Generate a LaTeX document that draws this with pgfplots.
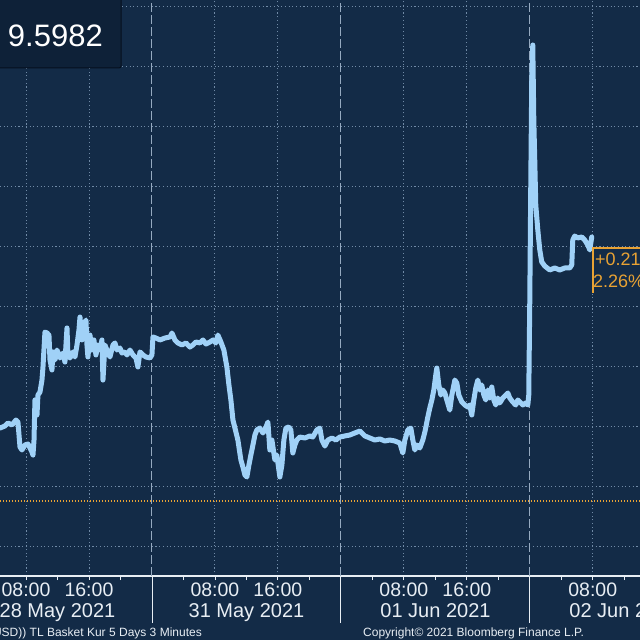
\documentclass[border=0pt]{standalone}
\usepackage{pgfplots}
\pgfplotsset{compat=1.18}
\usepackage{fontspec}
\setmainfont{Liberation Sans}
\definecolor{bg}{RGB}{19,43,71}
\definecolor{boxbg}{RGB}{14,33,56}
\definecolor{boxline}{RGB}{6,16,30}
\definecolor{ln}{RGB}{160,209,247}
\definecolor{gridc}{RGB}{112,138,166}
\definecolor{dayc}{RGB}{150,170,192}
\definecolor{orng}{RGB}{232,162,52}
\definecolor{txt}{RGB}{232,238,244}
\begin{document}
\begin{tikzpicture}[x=1pt,y=1pt]
\useasboundingbox (0,0) rectangle (640,640);
\fill[bg] (-5,-5) rectangle (645,645);
\begin{axis}[
  at={(0pt,64pt)}, anchor=south west,
  width=640pt, height=576pt, scale only axis,
  xmin=4.70, xmax=86.0, ymin=9.225, ymax=9.705,
  axis x line*=bottom, axis y line*=left,
  x axis line style={draw=txt, line width=1.4pt},
  y axis line style={draw=none},
  ytick={9.25,9.30,9.35,9.40,9.45,9.50,9.55,9.60,9.65,9.70},
  yticklabels={}, ytick style={draw=none},
  xtick={8,16,32,40,56,64,80,88},
  xticklabels={08:00,16:00,08:00,16:00,08:00,16:00,08:00,16:00},
  minor xtick={4,12,20,28,36,44,52,60,68,76,84},
  tick align=outside,
  xtick style={draw=txt, line width=0.8pt},
  major tick length=4pt, minor tick length=4pt,
  extra x ticks={24,48,72},
  extra x tick labels={},
  extra x tick style={major tick length=47pt, tick style={draw=txt, line width=1pt},
     grid style={draw=dayc, line width=1pt, dash pattern=on 9pt off 3pt}},
  xmajorgrids, ymajorgrids,
  grid style={draw=gridc, line width=0.9pt, dash pattern=on 1.1pt off 2.6pt},
  xticklabel style={anchor=base, yshift=-16pt, font=\fontsize{19.5}{22}\selectfont, text=txt},
  clip=true,
]
\addplot[orng, line width=1.6pt, dash pattern=on 1.4pt off 1.6pt] coordinates {(4.7,9.2875) (86,9.2875)};
\addplot[ln, line width=5pt, line join=round, line cap=round] coordinates {
(4.70,9.3483)(5.33,9.350)(5.71,9.3525)(6.22,9.3508)(6.73,9.355)(6.98,9.3533)(7.24,9.3325)(7.49,9.330)(7.87,9.3342)(8.25,9.335)(8.51,9.3317)(8.76,9.3283)(8.89,9.3258)(9.02,9.3383)(9.14,9.3717)(9.40,9.3592)(9.52,9.3758)(9.78,9.3783)(10.03,9.3883)(10.16,9.3992)(10.41,9.4283)(10.67,9.4275)(10.92,9.4258)(11.05,9.405)(11.30,9.3967)(11.43,9.4117)(11.68,9.405)(11.94,9.4133)(12.32,9.4067)(12.70,9.4108)(12.95,9.4033)(13.21,9.4317)(13.33,9.4092)(13.59,9.4067)(13.97,9.4117)(14.22,9.4075)(14.48,9.4175)(14.73,9.430)(14.86,9.4408)(15.11,9.4217)(15.37,9.4342)(15.62,9.4383)(15.75,9.4175)(15.87,9.4075)(16.13,9.4258)(16.38,9.4133)(16.63,9.4217)(16.89,9.4092)(17.14,9.4175)(17.40,9.4133)(17.65,9.4217)(17.78,9.3883)(18.03,9.4175)(18.29,9.4133)(18.67,9.4075)(19.05,9.4175)(19.30,9.4192)(19.56,9.4133)(19.94,9.415)(20.19,9.4108)(20.57,9.4117)(20.83,9.4092)(21.21,9.4133)(21.59,9.4092)(21.97,9.4067)(22.22,9.3992)(22.48,9.4117)(22.86,9.4092)(23.24,9.4075)(23.75,9.4067)(24.00,9.4092)(24.13,9.4242)(24.51,9.4233)(25.02,9.4217)(25.65,9.4233)(26.29,9.4242)(26.54,9.4275)(26.92,9.4217)(27.30,9.4192)(27.81,9.4175)(28.32,9.4192)(28.83,9.4158)(29.21,9.4175)(29.59,9.42)(30.10,9.4192)(30.48,9.4217)(30.86,9.4183)(31.37,9.42)(31.75,9.4217)(32.13,9.4192)(32.38,9.4258)(32.76,9.42)(33.14,9.4133)(33.52,9.3992)(33.78,9.3842)(34.03,9.3717)(34.29,9.355)(34.67,9.345)(34.92,9.3383)(35.30,9.3217)(35.56,9.3158)(35.81,9.3092)(36.06,9.3075)(36.32,9.3175)(36.57,9.3258)(36.83,9.3342)(37.08,9.3425)(37.33,9.3467)(37.71,9.3483)(38.10,9.3442)(38.35,9.3467)(38.73,9.3533)(38.98,9.330)(39.24,9.3383)(39.62,9.3217)(39.87,9.3258)(40.13,9.3133)(40.25,9.3075)(40.51,9.3175)(40.76,9.3383)(41.02,9.3483)(41.40,9.3492)(41.65,9.3467)(41.90,9.3275)(42.16,9.3342)(42.41,9.3383)(42.79,9.3408)(43.43,9.34)(44.06,9.3417)(44.44,9.3408)(44.95,9.3467)(45.33,9.3483)(45.59,9.3383)(45.97,9.3333)(46.35,9.3383)(46.86,9.34)(47.37,9.3383)(47.87,9.3408)(48.51,9.3417)(49.14,9.3425)(49.78,9.3442)(50.41,9.3458)(51.05,9.3417)(51.68,9.34)(52.32,9.3383)(52.95,9.3392)(53.59,9.3375)(54.22,9.3383)(54.86,9.3375)(55.49,9.3358)(55.87,9.3275)(56.13,9.3383)(56.51,9.3467)(56.89,9.3483)(57.14,9.3383)(57.40,9.330)(57.65,9.3342)(58.03,9.3317)(58.41,9.3383)(58.67,9.345)(59.05,9.3575)(59.30,9.365)(59.56,9.3717)(59.81,9.38)(60.06,9.3925)(60.19,9.3983)(60.44,9.3842)(60.70,9.3758)(60.95,9.38)(61.21,9.3775)(61.46,9.3717)(61.84,9.3633)(62.10,9.3758)(62.48,9.3883)(62.73,9.3858)(62.98,9.3758)(63.37,9.37)(63.75,9.3675)(64.13,9.3658)(64.38,9.3675)(64.63,9.3592)(64.89,9.3717)(65.14,9.3817)(65.40,9.3883)(65.65,9.38)(65.90,9.3842)(66.16,9.3758)(66.41,9.3717)(66.67,9.38)(66.92,9.3733)(67.17,9.3825)(67.43,9.3717)(67.68,9.3675)(67.94,9.3733)(68.19,9.3692)(68.57,9.3733)(68.95,9.3758)(69.21,9.3775)(69.46,9.3733)(69.84,9.37)(70.22,9.3675)(70.48,9.3717)(70.73,9.37)(71.11,9.3675)(71.49,9.3692)(71.75,9.3675)(71.87,9.3758)(72.00,9.455)(72.13,9.555)(72.25,9.6383)(72.38,9.6675)(72.51,9.605)(72.63,9.5717)(72.76,9.5342)(73.02,9.5133)(73.27,9.4967)(73.52,9.4867)(73.90,9.4833)(74.54,9.48)(75.17,9.4817)(75.81,9.48)(76.44,9.4817)(77.08,9.4817)(77.33,9.4842)(77.46,9.505)(77.71,9.5083)(78.10,9.5067)(78.60,9.5075)(78.98,9.505)(79.37,9.5008)(79.62,9.4967)(79.87,9.5075)
};
\end{axis}
% date labels
\begin{scope}[font=\fontsize{20}{22}\selectfont, text=txt]
\node[anchor=base] at (57.5,22) {28 May 2021};
\node[anchor=base] at (246.5,22) {31 May 2021};
\node[anchor=base] at (435.5,22) {01 Jun 2021};
\node[anchor=base] at (624.5,22) {02 Jun 2021};
\end{scope}
% footer
\node[anchor=base east, font=\fontsize{12}{14}\selectfont, text=txt, inner sep=0] at (202,4) {(USD)) TL Basket Kur 5 Days 3 Minutes};
\node[anchor=base west, font=\fontsize{12}{14}\selectfont, text=txt, inner sep=0] at (363,4) {Copyright© 2021 Bloomberg Finance L.P.};
% top-left value box
\draw[boxline, fill=boxbg, line width=1pt, rounded corners=2pt] (-6,646) rectangle (121,572);
\node[anchor=base east, font=\fontsize{31}{34}\selectfont, text=white, inner sep=0] at (103,593) {9.5982};
% last price tag
\fill[bg] (593,392) rectangle (650,347);
\draw[orng, line width=1.4pt] (650,392) -- (593,392) -- (593,347);
\node[anchor=base west, font=\fontsize{18}{20}\selectfont, text=orng, inner sep=0] at (595,374) {+0.21};
\node[anchor=base west, font=\fontsize{18}{20}\selectfont, text=orng, inner sep=0] at (593,352) {2.26\%};
\end{tikzpicture}
\end{document}
